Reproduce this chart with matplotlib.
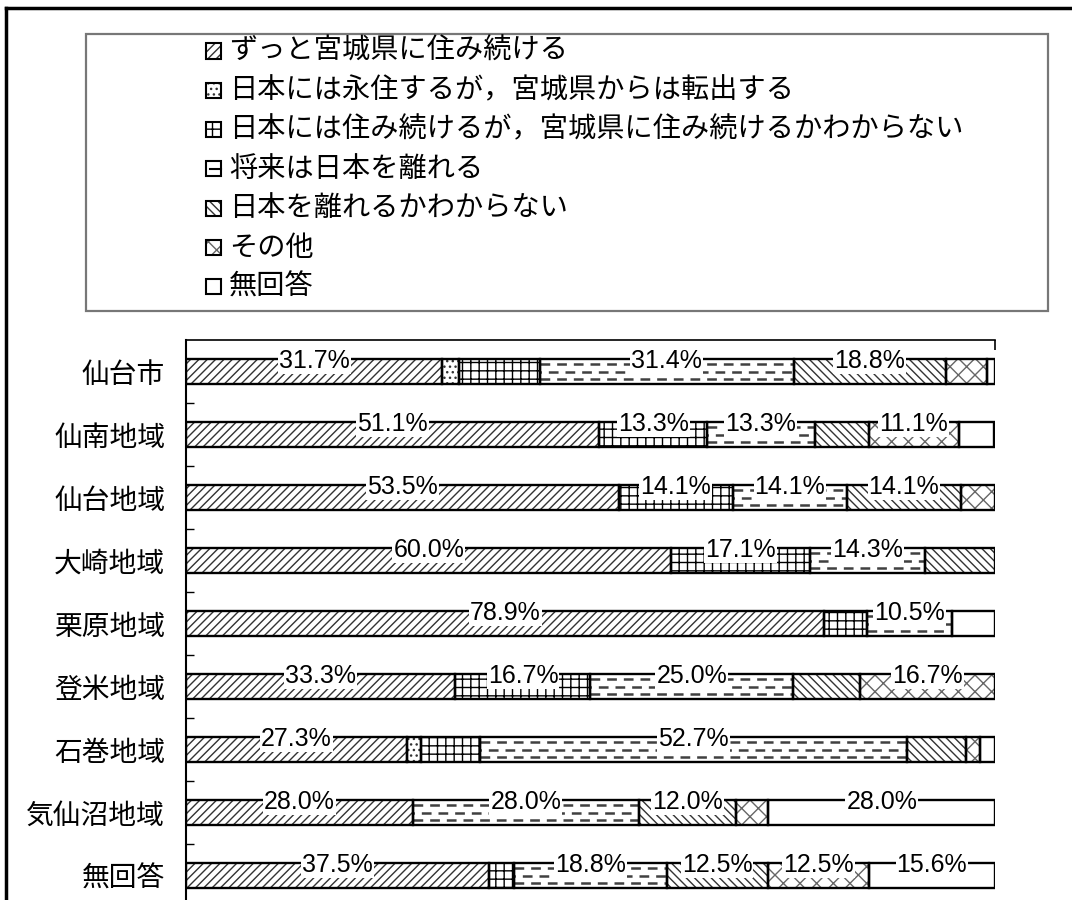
import numpy as np
import matplotlib
matplotlib.use('Agg')
import matplotlib.pyplot as plt
from matplotlib.patches import Rectangle
from matplotlib.lines import Line2D

plt.rcParams['font.family'] = ['Noto Sans CJK JP', 'DejaVu Sans']
plt.rcParams['hatch.linewidth'] = 1.0
plt.rcParams['lines.scale_dashes'] = False

# 地域別の回答割合 (%)
regions = ['仙台市', '仙南地域', '仙台地域', '大崎地域', '栗原地域',
           '登米地域', '石巻地域', '気仙沼地域', '無回答']
answers = ['ずっと宮城県に住み続ける',
           '日本には永住するが，宮城県からは転出する',
           '日本には住み続けるが，宮城県に住み続けるかわからない',
           '将来は日本を離れる',
           '日本を離れるかわからない',
           'その他',
           '無回答']

stay_miyagi = [31.7, 51.1, 53.5, 60.0, 78.9, 33.3, 27.3, 28.0, 37.5]
leave_miyagi = [2.1, 0, 0, 0, 0, 0, 1.8, 0, 0]
stay_unsure = [9.9, 13.3, 14.1, 17.1, 5.3, 16.7, 7.3, 0, 3.1]
leave_japan = [31.4, 13.3, 14.1, 14.3, 10.5, 25.0, 52.7, 28.0, 18.8]
leave_unsure = [18.8, 6.7, 14.1, 8.6, 0, 8.3, 7.3, 12.0, 12.5]
other = [5.1, 11.1, 4.2, 0, 0, 16.7, 1.8, 4.0, 12.5]
no_answer = [1.0, 4.4, 0, 0, 5.3, 0, 1.8, 28.0, 15.6]

series = [stay_miyagi, leave_miyagi, stay_unsure, leave_japan,
          leave_unsure, other, no_answer]

# hatch pattern / hatch colour for each answer ('dash' is drawn by hand)
patterns = [('////', '#333333'), ('...', '#333333'), ('++', 'black'),
            ('dash', '#404040'), ('\\\\\\\\', '#333333'), ('xx', '#666666'),
            ('', 'white')]

W, H = 1072, 900
fig = plt.figure(figsize=(W / 100, H / 100), dpi=100)
ax = fig.add_axes([186 / W, (H - 907) / H, 809 / W, 567 / H])

y = np.arange(len(regions))
bar_h = 0.41
left = np.zeros(len(regions))
pct_font = ['Liberation Sans Narrow', 'Liberation Sans', 'DejaVu Sans']

for k, vals in enumerate(series):
    vals = np.array(vals, dtype=float)
    hatch, hc = patterns[k]
    keep = vals > 0
    yy, ww, ll = y[keep], vals[keep] / 100, left[keep]
    if hatch == 'dash':
        ax.barh(yy, ww, left=ll, height=bar_h, color='white', linewidth=0,
                zorder=2)
    else:
        ax.barh(yy, ww, left=ll, height=bar_h, color='white', edgecolor=hc,
                hatch=hatch if hatch else None, linewidth=0, zorder=2)
    outline = ax.barh(yy, ww, left=ll, height=bar_h, fill=False,
                      edgecolor='black', linewidth=1.7, zorder=3)
    if hatch == 'dash':
        for rect in outline:
            x0, x1 = rect.get_x(), rect.get_x() + rect.get_width()
            y0 = rect.get_y()
            for frac, off in [(0.2, 0), (0.5, 6), (0.8, 0)]:
                ln = ax.hlines(y0 + frac * bar_h, x0, x1, colors=hc,
                               linewidth=1.8, linestyles=[(off, (7, 5))],
                               zorder=2.5)
                ln.set_clip_path(rect)
    for i in range(len(regions)):
        if vals[i] >= 10:
            ax.text(left[i] + vals[i] / 200, y[i] - 0.17, f'{vals[i]:.1f}%',
                    ha='center', va='center', fontsize=18, family=pct_font,
                    bbox=dict(facecolor='white', edgecolor='none', pad=0.8),
                    zorder=5)
    left += vals / 100

ax.set_xlim(0, 1)
ax.set_ylim(len(regions) - 0.5, -0.5)

# axes: left and top only
ax.spines['right'].set_visible(False)
ax.spines['bottom'].set_visible(False)
ax.spines['left'].set_linewidth(1.5)
ax.spines['top'].set_linewidth(1.2)
ax.xaxis.tick_top()
ax.set_xticks([0, 1])
ax.tick_params(axis='x', direction='in', length=7, width=1.2,
               labeltop=False)
ax.set_yticks(y)
ax.set_yticklabels(regions, fontsize=20)
ax.tick_params(axis='y', which='major', length=0, pad=15)
ax.set_yticks(np.arange(len(regions)) + 0.5, minor=True)
ax.tick_params(axis='y', which='minor', direction='in', length=6, width=1)

# legend drawn inside its own frame
fig.add_artist(Rectangle((86 / W, 1 - 311 / H), (1048 - 86) / W,
                         (311 - 34) / H, transform=fig.transFigure,
                         fill=False, edgecolor='#777777', linewidth=1.6))
for k, name in enumerate(answers):
    hatch, hc = patterns[k]
    yc = 51 + k * 39.3
    sq = 15
    if hatch == 'dash':
        fig.add_artist(Rectangle((206 / W, 1 - (yc + sq / 2) / H), sq / W,
                                 sq / H, transform=fig.transFigure,
                                 facecolor='white', edgecolor='black',
                                 linewidth=1.5))
        fig.add_artist(Line2D([210 / W, (206 + sq) / W],
                              [1 - (yc + 0.5) / H] * 2,
                              transform=fig.transFigure, color='black',
                              linewidth=1.5))
    else:
        fig.add_artist(Rectangle((206 / W, 1 - (yc + sq / 2) / H), sq / W,
                                 sq / H, transform=fig.transFigure,
                                 facecolor='white', edgecolor=hc,
                                 hatch=hatch if hatch else None,
                                 linewidth=0))
        fig.add_artist(Rectangle((206 / W, 1 - (yc + sq / 2) / H), sq / W,
                                 sq / H, transform=fig.transFigure,
                                 fill=False, edgecolor='black',
                                 linewidth=1.5))
    fig.text(229 / W, 1 - yc / H, name, fontsize=20.3, va='center',
             ha='left')

# outer frame (top and left edges)
fig.add_artist(Line2D([6 / W, 1], [1 - 8 / H] * 2, transform=fig.transFigure,
                      color='black', linewidth=2.5))
fig.add_artist(Line2D([6 / W] * 2, [0, 1 - 8 / H], transform=fig.transFigure,
                      color='black', linewidth=2.5))

fig.savefig('out.png', dpi=100)
